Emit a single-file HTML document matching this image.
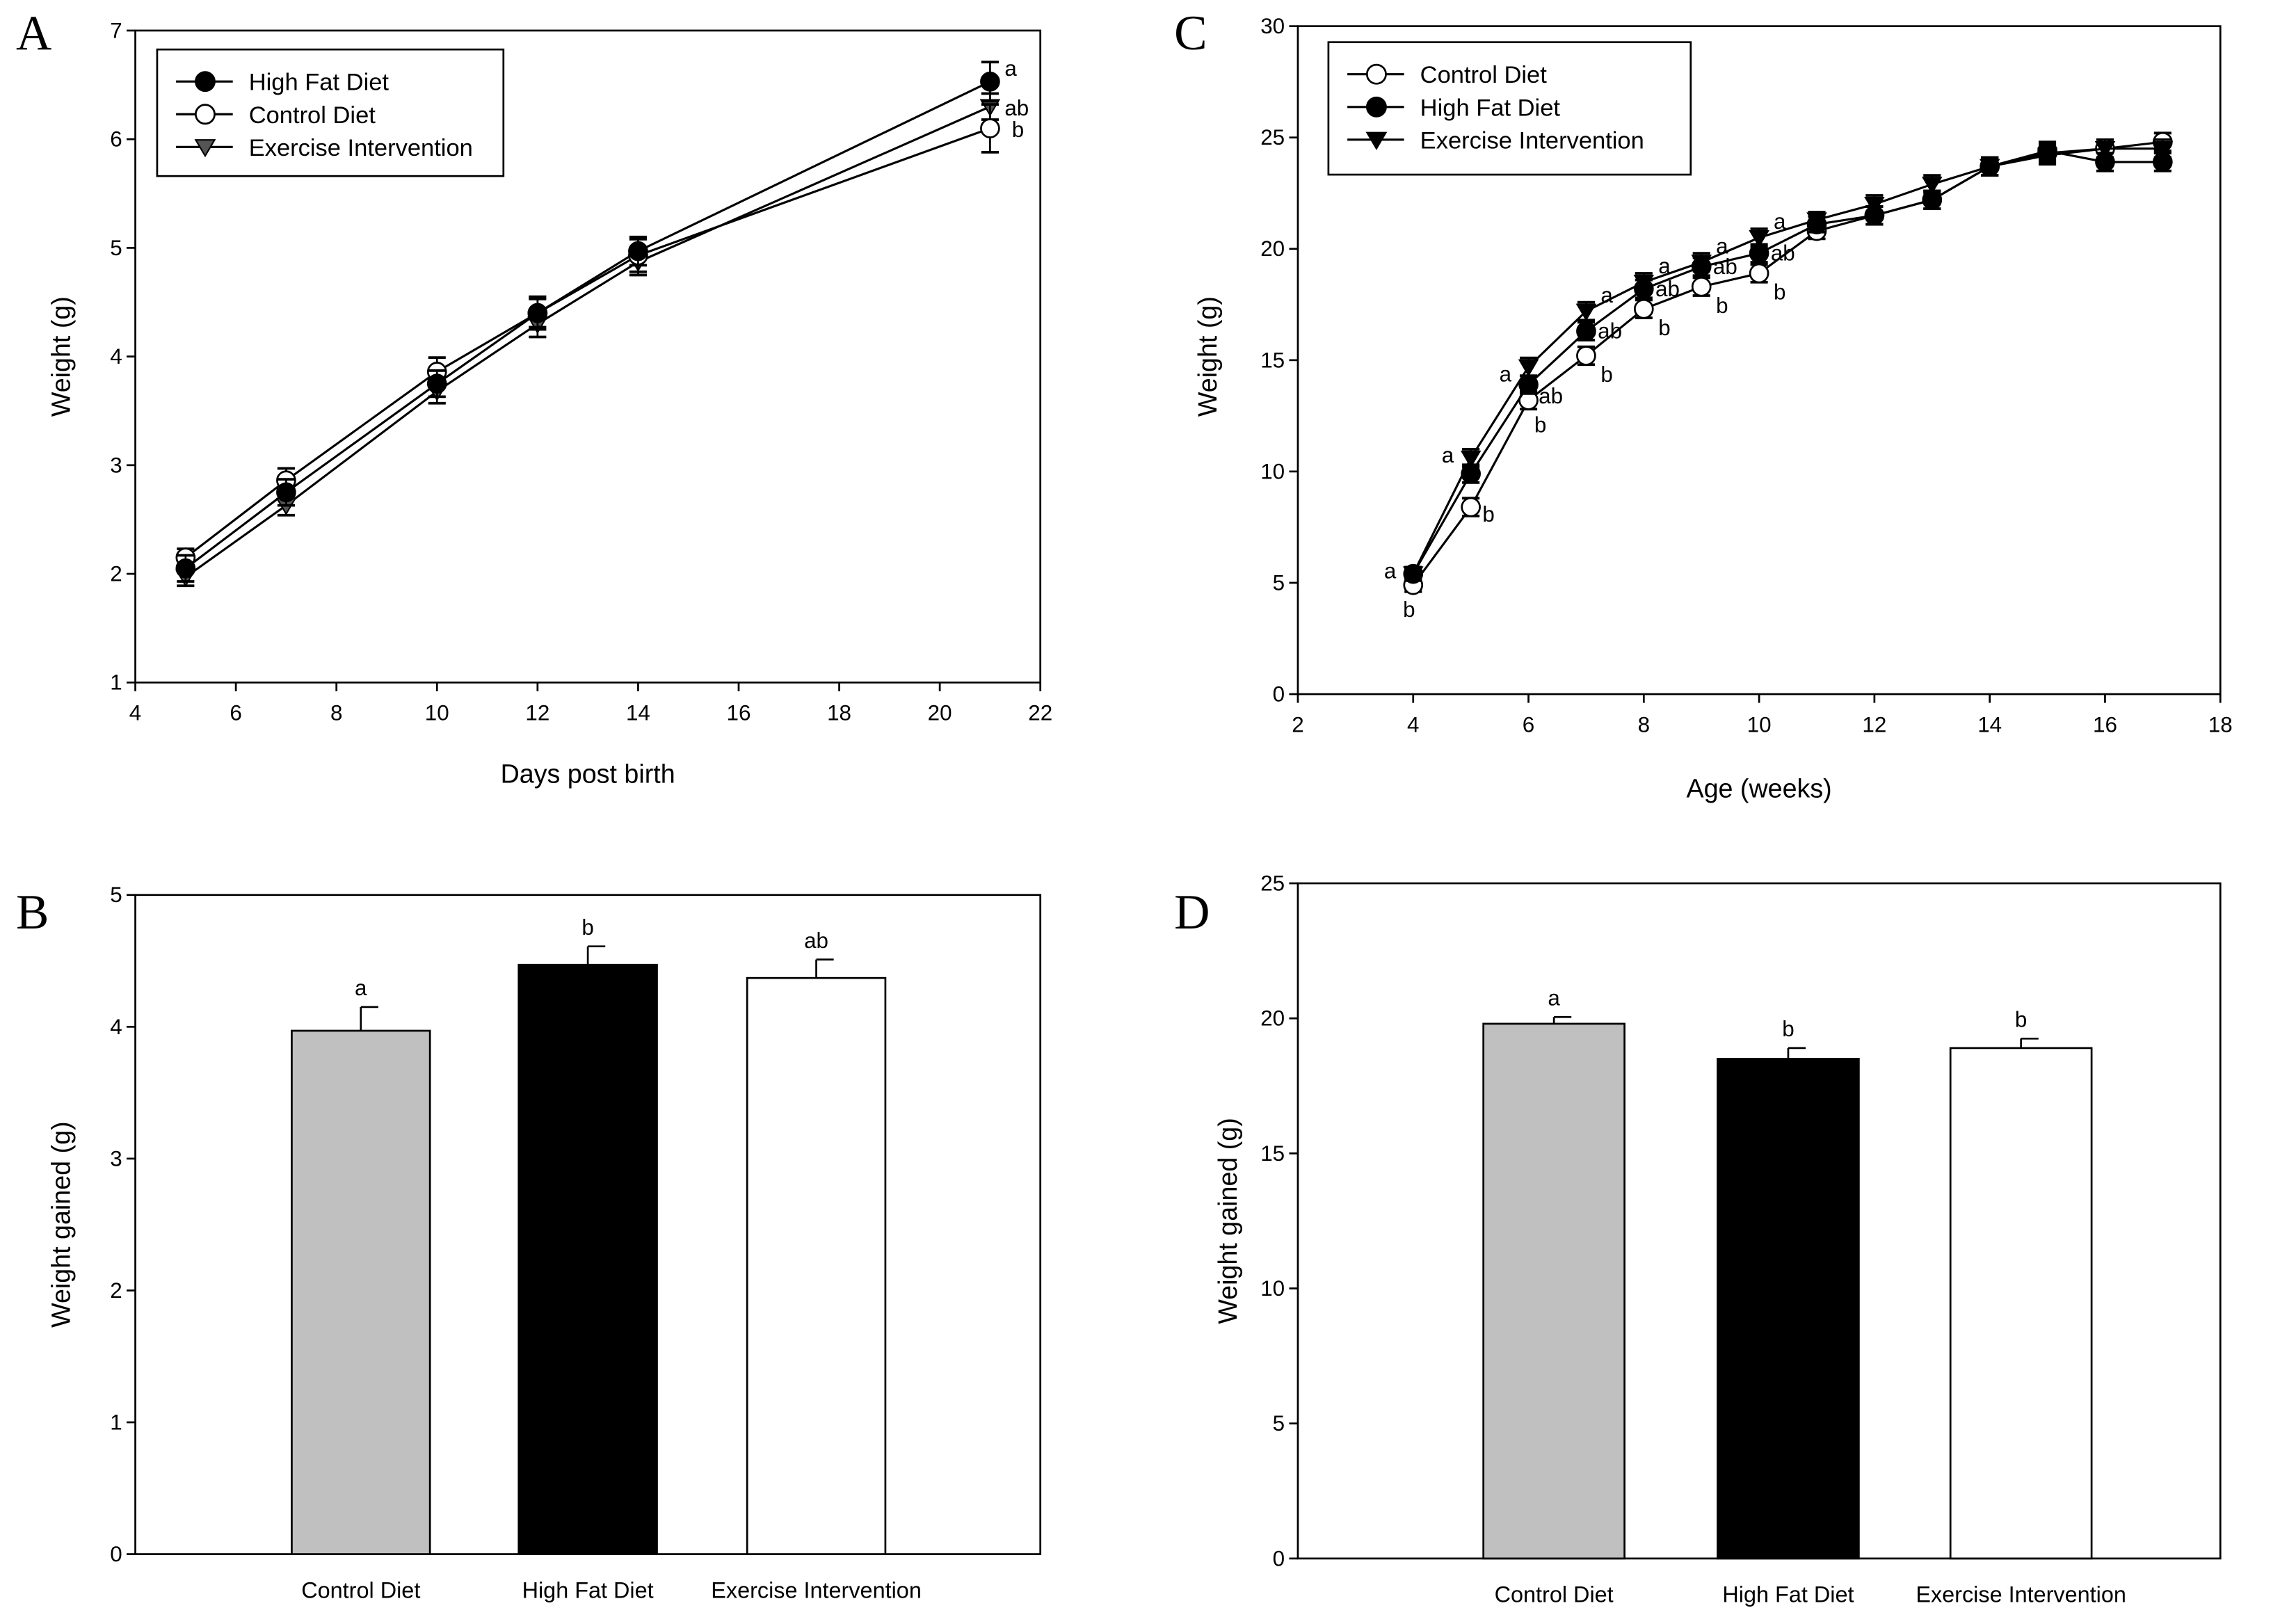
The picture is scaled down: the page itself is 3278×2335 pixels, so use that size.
<!DOCTYPE html>
<html><head><meta charset="utf-8"><style>
html,body{margin:0;padding:0;background:#fff;}
svg{display:block;font-family:"Liberation Sans",Arial,sans-serif;}
</style></head><body>
<svg id="fig" width="3278" height="2335" viewBox="0 0 1567 1116" preserveAspectRatio="none" xmlns="http://www.w3.org/2000/svg">
<rect width="1567" height="1116" fill="#fff"/>
</svg>
<script>
// ---- Panel A data ----
const aDays = [5, 7, 10, 12, 14, 21];
const aHFD = [2.05, 2.75, 3.75, 4.40, 4.97, 6.53];
const aHFDErr = [0.12, 0.12, 0.12, 0.13, 0.13, 0.18];
const aCtrl = [2.15, 2.86, 3.86, 4.40, 4.93, 6.10];
const aCtrlErr = [0.08, 0.11, 0.13, 0.15, 0.15, 0.22];
const aEI = [1.97, 2.63, 3.68, 4.30, 4.87, 6.30];
const aEIErr = [0.08, 0.09, 0.11, 0.12, 0.12, 0.12];
const aXTicks = [4, 6, 8, 10, 12, 14, 16, 18, 20, 22];
const aYTicks = [1, 2, 3, 4, 5, 6, 7];
const aLetters = ["a", "ab", "b"];
// ---- Panel C data ----
const cWeeks = [4, 5, 6, 7, 8, 9, 10, 11, 12, 13, 14, 15, 16, 17];
const cCtrl = [4.9, 8.4, 13.2, 15.2, 17.3, 18.3, 18.9, 20.8, 21.5, 22.2, 23.7, 24.3, 24.5, 24.8];
const cHFD = [5.4, 9.9, 13.9, 16.3, 18.2, 19.2, 19.8, 21.1, 21.5, 22.2, 23.7, 24.4, 23.9, 23.9];
const cEI = [5.4, 10.6, 14.7, 17.2, 18.5, 19.4, 20.5, 21.3, 22.0, 22.9, 23.7, 24.2, 24.5, 24.5];
const cErr = [0.3, 0.4, 0.4, 0.4, 0.4, 0.4, 0.4, 0.35, 0.4, 0.4, 0.4, 0.4, 0.4, 0.4];
const cXTicks = [2, 4, 6, 8, 10, 12, 14, 16, 18];
const cYTicks = [0, 5, 10, 15, 20, 25, 30];
const cAnnoWeeks = [4, 5, 6, 7, 8, 9, 10];
// ---- Panel B data ----
const bCats = ["Control Diet", "High Fat Diet", "Exercise Intervention"];
const bVals = [3.97, 4.47, 4.37];
const bErr = [0.18, 0.14, 0.14];
const bSig = ["a", "b", "ab"];
const bYTicks = [0, 1, 2, 3, 4, 5];
// ---- Panel D data ----
const dCats = ["Control Diet", "High Fat Diet", "Exercise Intervention"];
const dVals = [19.8, 18.5, 18.9];
const dErr = [0.25, 0.4, 0.35];
const dSig = ["a", "b", "b"];
const dYTicks = [0, 5, 10, 15, 20, 25];

const NS = "http://www.w3.org/2000/svg";
const svg = document.getElementById("fig");
function el(tag, attrs, parent, text) {
  const e = document.createElementNS(NS, tag);
  for (const k in attrs) e.setAttribute(k, attrs[k]);
  if (text !== undefined) e.textContent = text;
  (parent || svg).appendChild(e);
  return e;
}
function scale(d0, d1, r0, r1) { return v => r0 + (v - d0) * (r1 - r0) / (d1 - d0); }
const SW = 1.3;

function frame(g, L, R, T, B) {
  const f = el("rect", {x: L, y: T, width: R - L, height: B - T, fill: "none", stroke: "#000", "stroke-width": SW}, g);
  
  
}
function yAxis(g, ticks, y, L) {
  ticks.forEach(t => {
    el("line", {x1: L - 6, x2: L, y1: y(t), y2: y(t), stroke: "#000", "stroke-width": SW}, g);
    const tx = el("text", {x: L - 9, y: y(t) + 5, "text-anchor": "end", "font-size": 15}, g, t);
    
    
  });
}
function xAxis(g, ticks, x, B) {
  ticks.forEach(t => {
    el("line", {x1: x(t), x2: x(t), y1: B, y2: B + 6, stroke: "#000", "stroke-width": SW}, g);
    const tx = el("text", {x: x(t), y: B + 26, "text-anchor": "middle", "font-size": 15}, g, t);
    
    
  });
}
function title(g, txt, x, y, rot, name) {
  const t = el("text", {x: x, y: y, "text-anchor": "middle", "font-size": 18, transform: rot ? `rotate(-90 ${x} ${y})` : ""}, g, txt);
  
  
}
function panelLetter(txt, x, y) {
  const t = el("text", {x: x, y: y, "font-size": 34, "font-family": "Liberation Serif, serif"}, svg, txt);
  
  
}
function marker(g, type, cx, cy, r, fill) {
  let m;
  if (type === "circle") m = el("circle", {cx: cx, cy: cy, r: r, fill: fill, stroke: "#000", "stroke-width": 1.3}, g);
  else m = el("polygon", {points: `${cx - r},${cy - r * 0.75} ${cx + r},${cy - r * 0.75} ${cx},${cy + r * 0.95}`, fill: fill, stroke: "#000", "stroke-width": 1}, g);
  return m;
}
function series(g, xs, vals, errs, x, y, type, fill, name) {
  const sg = el("g", {}, g);
  
  
  el("polyline", {points: xs.map((d, i) => `${x(d)},${y(vals[i])}`).join(" "), fill: "none", stroke: "#000", "stroke-width": 1.5}, sg);
  xs.forEach((d, i) => {
    const cx = x(d), hi = y(vals[i] + errs[i]), lo = y(vals[i] - errs[i]);
    el("line", {x1: cx, x2: cx, y1: hi, y2: lo, stroke: "#000", "stroke-width": 1.3}, sg);
    el("line", {x1: cx - 6, x2: cx + 6, y1: hi, y2: hi, stroke: "#000", "stroke-width": 1.8}, sg);
    el("line", {x1: cx - 6, x2: cx + 6, y1: lo, y2: lo, stroke: "#000", "stroke-width": 1.8}, sg);
  });
  xs.forEach((d, i) => {
    const m = marker(sg, type, x(d), y(vals[i]), 6.2, fill);
    
    
  });
}
function legend(g, x0, y0, w, h, entries) {
  const lg = el("g", {}, g);
  
  
  el("rect", {x: x0, y: y0, width: w, height: h, fill: "#fff", stroke: "#000", "stroke-width": SW}, lg);
  entries.forEach((e, i) => {
    const yy = y0 + 22 + i * 22.5;
    const eg = el("g", {}, lg);
    
    
    el("line", {x1: x0 + 13, x2: x0 + 52, y1: yy, y2: yy, stroke: "#000", "stroke-width": 1.5}, eg);
    marker(eg, e.type, x0 + 33, yy, 6.5, e.fill);
    el("text", {x: x0 + 63, y: yy + 6, "font-size": 16.5}, eg, e.label);
  });
}

// ===== Panel A =====
(function () {
  const g = el("g", {});  
  const L = 93, R = 715, T = 21, B = 469;
  const x = scale(4, 22, L, R), y = scale(1, 7, B, T);
  frame(g, L, R, T, B); yAxis(g, aYTicks, y, L); xAxis(g, aXTicks, x, B);
  series(g, aDays, aEI, aEIErr, x, y, "tri", "#555", "series-exercise-intervention");
  series(g, aDays, aCtrl, aCtrlErr, x, y, "circle", "#fff", "series-control-diet");
  series(g, aDays, aHFD, aHFDErr, x, y, "circle", "#000", "series-high-fat-diet");
  const last = aDays.length - 1;
  [aHFD[last], aEI[last], aCtrl[last]].forEach((v, i) => {
    const t = el("text", {x: x(aDays[last]) + (i === 2 ? 15 : 10), y: y(v) + (i === 0 ? -4 : 6), "font-size": 15}, g, aLetters[i]);
    
    
  });
  legend(g, 108, 34, 238, 87, [{type: "circle", fill: "#000", label: "High Fat Diet"}, {type: "circle", fill: "#fff", label: "Control Diet"}, {type: "tri", fill: "#555", label: "Exercise Intervention"}]);
  title(g, "Weight (g)", 48, 245, true, "y-axis-title");
  title(g, "Days post birth", 404, 538, false, "x-axis-title");
})();
panelLetter("A", 11, 34);

// ===== Panel C =====
(function () {
  const g = el("g", {});  
  const L = 892, R = 1526, T = 18, B = 477;
  const x = scale(2, 18, L, R), y = scale(0, 30, B, T);
  frame(g, L, R, T, B); yAxis(g, cYTicks, y, L); xAxis(g, cXTicks, x, B);
  series(g, cWeeks, cCtrl, cErr, x, y, "circle", "#fff", "series-control-diet");
  series(g, cWeeks, cHFD, cErr, x, y, "circle", "#000", "series-high-fat-diet");
  series(g, cWeeks, cEI, cErr, x, y, "tri", "#000", "series-exercise-intervention");
  cAnnoWeeks.forEach((w, i) => {
    const px = x(w);
    let items;
    if (i < 2) items = [["a", px - 20, y(cEI[i]) + 3], ["b", px + (i === 0 ? -7 : 8), y(cCtrl[i]) + (i === 0 ? 22 : 10)]];
    else if (i === 2) items = [["a", px - 20, y(cEI[i]) + 10], ["ab", px + 7, y(cHFD[i]) + 13], ["b", px + 4, y(cCtrl[i]) + 22]];
    else items = [["a", px + 10, y(cEI[i]) - 6], ["ab", px + 8, y(cHFD[i]) + 5], ["b", px + 10, y(cCtrl[i]) + 18]];
    items.forEach(it => {
      const t = el("text", {x: it[1], y: it[2], "font-size": 15}, g, it[0]);
      
      
    });
  });
  legend(g, 913, 29, 249, 91, [{type: "circle", fill: "#fff", label: "Control Diet"}, {type: "circle", fill: "#000", label: "High Fat Diet"}, {type: "tri", fill: "#000", label: "Exercise Intervention"}]);
  title(g, "Weight (g)", 836, 245, true, "y-axis-title");
  title(g, "Age (weeks)", 1209, 548, false, "x-axis-title");
})();
panelLetter("C", 807, 34);

// ===== Bar panels =====
function barPanel(name, cats, vals, errs, sig, ticks, ymax, L, R, T, B, centers, bw, ytitleX, ytitle) {
  const g = el("g", {});  
  const y = scale(0, ymax, B, T);
  frame(g, L, R, T, B); yAxis(g, ticks, y, L);
  const fills = ["#c0c0c0", "#000", "#fff"];
  cats.forEach((c, i) => {
    const cx = centers[i];
    const bar = el("rect", {x: cx - bw / 2, y: y(vals[i]), width: bw, height: B - y(vals[i]), fill: fills[i], stroke: "#000", "stroke-width": 1.3}, g);
    
    
    const top = y(vals[i] + errs[i]);
    el("line", {x1: cx, x2: cx, y1: y(vals[i]), y2: top, stroke: "#000", "stroke-width": 1.3}, g);
    el("line", {x1: cx, x2: cx + 12, y1: top, y2: top, stroke: "#000", "stroke-width": 1.3}, g);
    const s = el("text", {x: cx, y: top - 8, "text-anchor": "middle", "font-size": 15}, g, sig[i]);
    
    
    const cl = el("text", {x: cx, y: B + 30, "text-anchor": "middle", "font-size": 15.5}, g, c);
    
    
  });
  title(g, ytitle, ytitleX, (T + B) / 2, true, "y-axis-title");
}
barPanel("panel-b", bCats, bVals, bErr, bSig, bYTicks, 5, 93, 715, 615, 1068, [248, 404, 561], 95, 48, "Weight gained (g)");
panelLetter("B", 11, 638);
barPanel("panel-d", dCats, dVals, dErr, dSig, dYTicks, 25, 892, 1526, 607, 1071, [1068, 1229, 1389], 97, 850, "Weight gained (g)");
panelLetter("D", 807, 638);
</script>
</body></html>
